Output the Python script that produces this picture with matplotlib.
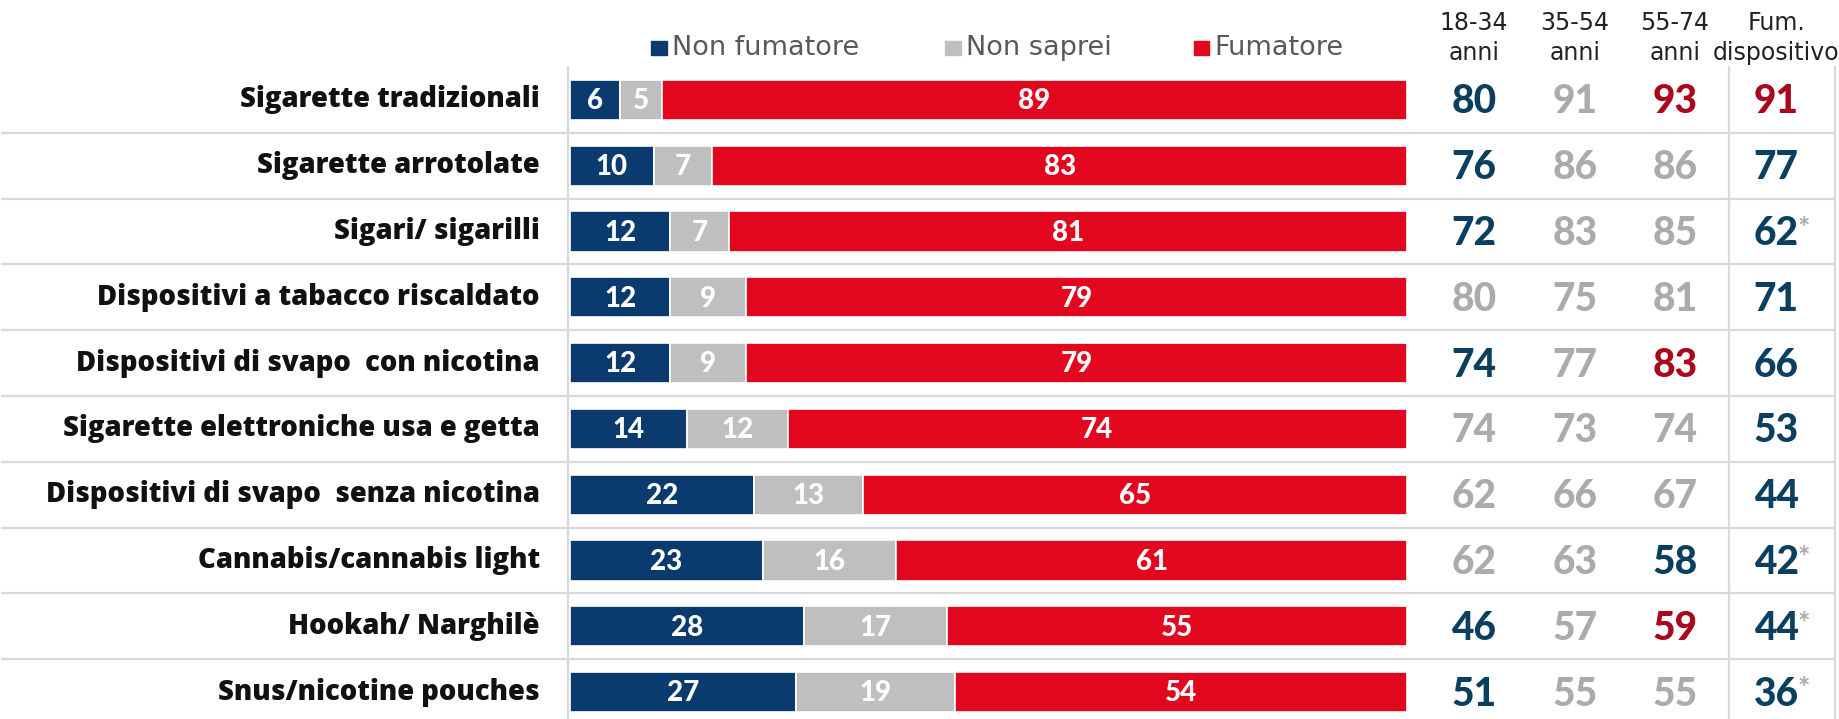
import matplotlib.pyplot as plt
from matplotlib.patches import Rectangle

categories = [
    "Sigarette tradizionali",
    "Sigarette arrotolate",
    "Sigari/ sigarilli",
    "Dispositivi a tabacco riscaldato",
    "Dispositivi di svapo  con nicotina",
    "Sigarette elettroniche usa e getta",
    "Dispositivi di svapo  senza nicotina",
    "Cannabis/cannabis light",
    "Hookah/ Narghilè",
    "Snus/nicotine pouches",
]
non_fumatore = [6, 10, 12, 12, 12, 14, 22, 23, 28, 27]
non_saprei = [5, 7, 7, 9, 9, 12, 13, 16, 17, 19]
fumatore = [89, 83, 81, 79, 79, 74, 65, 61, 55, 54]

col_headers = ["18-34\nanni", "35-54\nanni", "55-74\nanni", "Fum.\ndispositivo"]
age_18_34 = [80, 76, 72, 80, 74, 74, 62, 62, 46, 51]
age_35_54 = [91, 86, 83, 75, 77, 73, 66, 63, 57, 55]
age_55_74 = [93, 86, 85, 81, 83, 74, 67, 58, 59, 55]
fum_disp = [91, 77, 62, 71, 66, 53, 44, 42, 44, 36]
# n = navy (below average), g = grey (in line), r = red (above average)
col_tones = [
    ["n", "n", "n", "g", "n", "g", "g", "g", "n", "n"],
    ["g", "g", "g", "g", "g", "g", "g", "g", "g", "g"],
    ["r", "g", "g", "g", "r", "g", "g", "n", "r", "g"],
    ["r", "n", "n", "n", "n", "n", "n", "n", "n", "n"],
]
low_base = [False, False, True, False, False, False, False, True, True, True]

NAVY = "#0B3B6E"
GREY = "#BFBFBF"
RED = "#E2061F"
tone_color = {"n": "#0A3F5F", "g": "#ABABAB", "r": "#A8071C"}
LINE = "#D9D9D9"

plt.rcParams["font.family"] = ["Lato", "DejaVu Sans"]

fig = plt.figure(figsize=(18.39, 7.19), dpi=100)
ax = fig.add_axes([0, 0, 1, 1])
px = 8.37  # pixels per percentage point
ax.set_xlim(-570 / px, (1839 - 570) / px)
ax.set_ylim(9.41, -1.52)
ax.axis("off")

n = len(categories)
rows = list(range(n))
bar_h = 0.61

left = [0] * n
for vals, color in [(non_fumatore, NAVY), (non_saprei, GREY), (fumatore, RED)]:
    ax.barh(rows, vals, left=left, height=bar_h, color=color,
            edgecolor="white", linewidth=1.2, zorder=3)
    for i, v in enumerate(vals):
        ax.text(left[i] + v / 2, i + 0.02, str(v), ha="center", va="center",
                color="white", fontsize=20, fontweight="black", zorder=4)
    left = [l + v for l, v in zip(left, vals)]

# category labels
for i, c in enumerate(categories):
    ax.text(-3.6, i, c, ha="right", va="center", fontsize=19.8,
            fontweight="heavy", color="#111111",
            family=["Open Sans", "DejaVu Sans"])

# grid lines of the table
for i in range(n - 1):
    ax.plot([-68, 151.1], [i + 0.5, i + 0.5], color=LINE, lw=1.6, zorder=1,
            solid_capstyle="butt")
for x in [-0.2, 138.5, 151.1]:
    ax.plot([x, x], [-0.5, 9.41], color=LINE, lw=1.6, zorder=1)

# right-hand columns
col_x = [108.0, 120.1, 132.0, 144.1]
narrow = ["Liberation Sans Narrow", "DejaVu Sans Condensed", "DejaVu Sans"]
for j, (vals, head) in enumerate(zip([age_18_34, age_35_54, age_55_74, fum_disp],
                                     col_headers)):
    top, bottom = head.split("\n")
    ax.text(col_x[j], -1.17, top, ha="center", va="center", fontsize=17,
            color="#222222", family=narrow)
    ax.text(col_x[j], -0.71, bottom, ha="center", va="center", fontsize=17,
            color="#222222", family=narrow)
    for i, v in enumerate(vals):
        ax.text(col_x[j], i + 0.03, str(v), ha="center", va="center",
                fontsize=28, fontweight="black", color=tone_color[col_tones[j][i]])
        if j == 3 and low_base[i]:
            ax.text(col_x[j] + 2.5, i - 0.04, "*", ha="left", va="center",
                    fontsize=21, fontweight="bold", color="#ABABAB")

# legend
leg_y = -0.79
for x0, color, lab in [(9.7, NAVY, "Non fumatore"), (44.8, GREY, "Non saprei"),
                       (74.5, RED, "Fumatore")]:
    ax.add_patch(Rectangle((x0, leg_y - 0.11), 1.9, 0.22, color=color))
    ax.text(x0 + 2.5, leg_y, lab, ha="left", va="center", fontsize=19.5,
            color="#595959", family=narrow)

fig.savefig("out.png", dpi=100)
